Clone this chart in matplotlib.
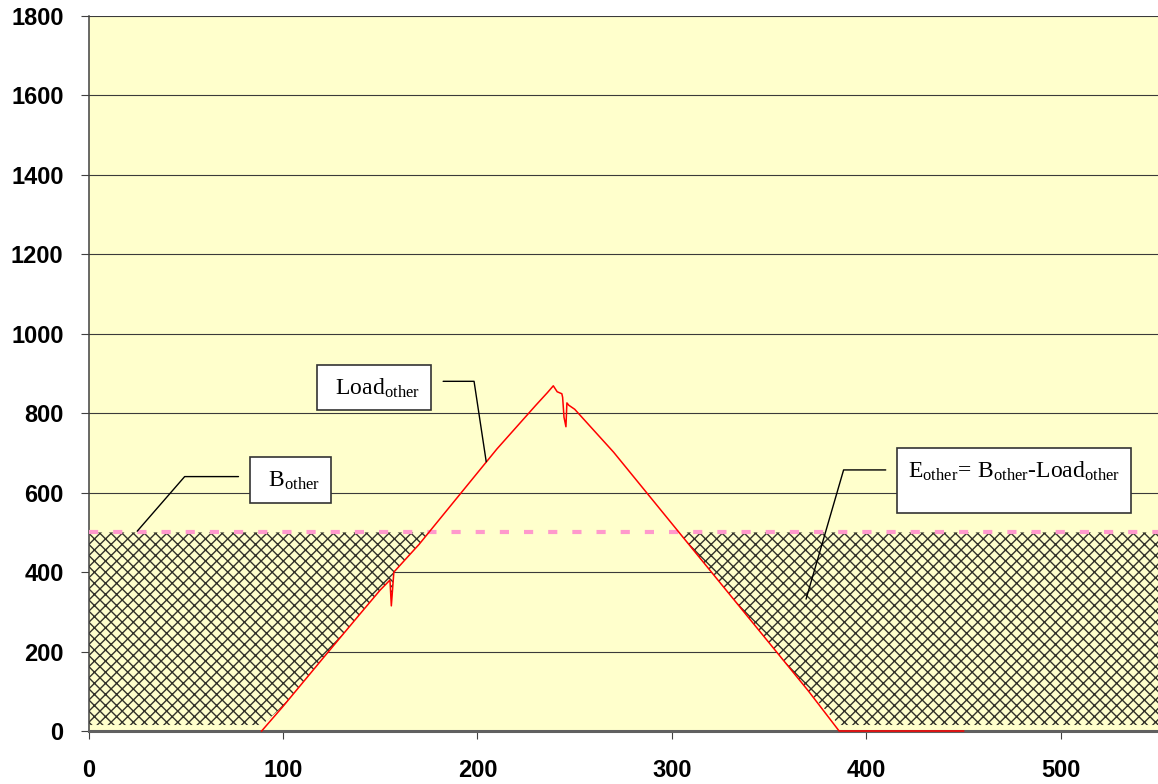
import numpy as np
import matplotlib.pyplot as plt

plt.rcParams['mathtext.fontset'] = 'custom'
plt.rcParams['mathtext.rm'] = 'Liberation Serif'
plt.rcParams['mathtext.it'] = 'Liberation Serif:italic'
plt.rcParams['hatch.linewidth'] = 1.0
plt.rcParams['hatch.color'] = '#33332a'

# Load_other curve
x_load = [89, 100, 120, 140, 150, 155, 155.7, 157, 170, 190, 210, 230, 236,
          239, 241, 243.4, 243.8, 244.5, 245.5, 246, 247, 250, 270, 290, 310,
          330, 350, 370, 386, 450]
load = [0, 62, 180, 297, 355, 380, 315, 400, 470, 590, 710, 820, 852,
        869, 854, 849, 840, 790, 766, 826, 820, 810, 702, 582, 462,
        342, 222, 102, 0, 0]
B_other = 500

xticks = [0, 100, 200, 300, 400, 500]
yticks = list(range(0, 1801, 200))

fig = plt.figure(figsize=(11.58, 7.84), dpi=100)
ax = fig.add_axes([0.0765, 0.0676, 0.9235, 0.912])
ax.set_facecolor('#ffffcc')

# hatched area E_other = B_other - Load_other
x_full = np.array([0] + x_load + [550], dtype=float)
load_full = np.array([0] + load + [0], dtype=float)
ax.fill_between(x_full, np.maximum(load_full, 15), B_other,
                where=load_full <= B_other, interpolate=True,
                facecolor='#ffffcc', edgecolor='#33332a', hatch='xxx',
                linewidth=0, zorder=2)

ax.plot(x_load, load, color='red', lw=1.1, zorder=7, clip_on=False)
ax.axhline(B_other, color='#ff99cc', lw=3, dashes=(2.2, 3.6), zorder=5)

ax.set_xlim(0, 550)
ax.set_ylim(0, 1800)
ax.set_xticks(xticks)
ax.set_yticks(yticks)
ax.grid(axis='y', color='#3a3a3a', lw=0.8, zorder=1)
ax.set_axisbelow(True)

for s in ['top', 'right']:
    ax.spines[s].set_visible(False)
ax.spines['left'].set_color('#404040')
ax.spines['left'].set_linewidth(1.1)
ax.spines['bottom'].set_color('#606060')
ax.spines['bottom'].set_linewidth(2.2)
ax.spines['bottom'].set_zorder(6)

ax.tick_params(axis='both', direction='out', length=6, width=0.8,
               color='#404040', labelsize=17)
ax.tick_params(axis='x', pad=14)
ax.tick_params(axis='y', pad=12)
for lab in ax.get_xticklabels() + ax.get_yticklabels():
    lab.set_fontfamily('Liberation Sans')
    lab.set_fontweight('bold')

box = dict(boxstyle='square,pad=0.45', fc='white', ec='#333333', lw=1.2)

def label(txt, xy, xytext, relpos, angleB, ls=1.2):
    ax.annotate(txt, xy=xy, xytext=xytext, fontsize=17, ha='center',
                va='center', bbox=box, zorder=8, linespacing=ls,
                arrowprops=dict(arrowstyle='-', color='black', lw=1.0,
                                relpos=relpos, shrinkA=8, shrinkB=0,
                                connectionstyle='angle,angleA=180,angleB=%g,rad=0' % angleB))

label(r' $\mathrm{B_{other}}$ ', (25, 503), (104, 632), (0, 0.64), 49)
label(r' $\mathrm{Load_{other}}$ ', (204.5, 678), (147, 864), (1, 0.77), 98.6)
label('$\\mathrm{E_{other}\\!=\\,B_{other}\\text{-}Load_{other}}$\n ', (369, 332),
      (476, 630), (0, 0.75), 73.8, ls=0.75)

fig.savefig('out.png', dpi=100)
